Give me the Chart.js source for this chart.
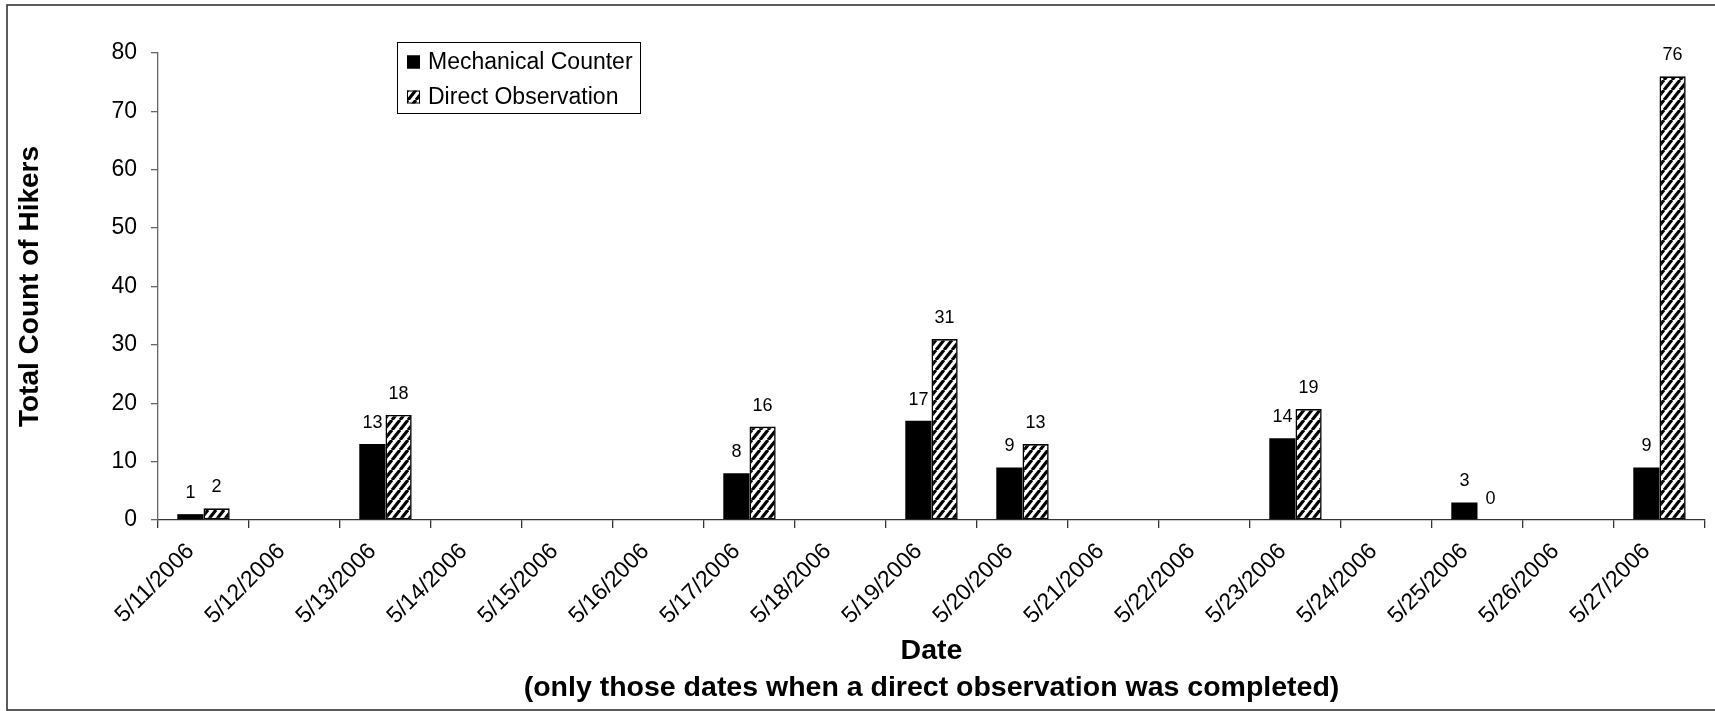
<!DOCTYPE html>
<html>
<head>
<meta charset="utf-8">
<title>Total Count of Hikers</title>
<script src="https://cdn.jsdelivr.net/npm/chart.js@4/dist/chart.umd.min.js"></script>
<style>
  html, body { margin: 0; padding: 0; background: #fff; }
  #wrap { width: 1715px; height: 711px; position: relative; }
</style>
</head>
<body>
<div id="wrap"><canvas id="c" width="1715" height="711"></canvas></div>
<script>
// Survey dates (one category per day)
const dates = [
  '5/11/2006', '5/12/2006', '5/13/2006', '5/14/2006', '5/15/2006', '5/16/2006',
  '5/17/2006', '5/18/2006', '5/19/2006', '5/20/2006', '5/21/2006', '5/22/2006',
  '5/23/2006', '5/24/2006', '5/25/2006', '5/26/2006', '5/27/2006'
];
// Hiker totals per day; null = no direct observation that day
const mechanicalCounter = [1, null, 13, null, null, null, 8, null, 17, 9, null, null, 14, null, 3, null, 9];
const directObservation = [2, null, 18, null, null, null, 16, null, 31, 13, null, null, 19, null, 0, null, 76];
// Value axis range
const yMin = 0;
const yMax = 80;
const yStep = 10;

const seriesNames = ['Mechanical Counter', 'Direct Observation'];
const axisTitleY = 'Total Count of Hikers';
const axisTitleX = ['Date', '(only those dates when a direct observation was completed)'];

const FONT = '"Liberation Sans", Arial, Helvetica, sans-serif';

// Upward diagonal hatch used for the direct-observation bars
function makeHatch(ctx) {
  const w = 8, h = 10;
  const tile = document.createElement('canvas');
  tile.width = w; tile.height = h;
  const t = tile.getContext('2d');
  t.fillStyle = '#fff';
  t.fillRect(0, 0, w, h);
  t.strokeStyle = '#000';
  t.lineWidth = 3.2;
  t.beginPath();
  for (let k = -1; k <= 1; k++) {
    t.moveTo(k * w, h);
    t.lineTo(k * w + w, 0);
  }
  t.stroke();
  return ctx.createPattern(tile, 'repeat');
}

const canvas = document.getElementById('c');
const ctx = canvas.getContext('2d');
const hatch = makeHatch(ctx);

// White page with the outer frame
const framePlugin = {
  id: 'frame',
  beforeDraw(chart) {
    const c = chart.ctx;
    c.save();
    c.fillStyle = '#fff';
    c.fillRect(0, 0, chart.width, chart.height);
    c.strokeStyle = '#333';
    c.lineWidth = 1.6;
    c.strokeRect(7, 5, chart.width + 10, 705);
    c.restore();
  }
};

// Value labels above each bar
const valueLabels = {
  id: 'valueLabels',
  afterDatasetsDraw(chart) {
    const c = chart.ctx;
    c.save();
    c.font = '18px ' + FONT;
    c.fillStyle = '#000';
    c.textAlign = 'center';
    c.textBaseline = 'middle';
    chart.data.datasets.forEach((ds, i) => {
      const meta = chart.getDatasetMeta(i);
      meta.data.forEach((bar, j) => {
        const v = ds.data[j];
        if (v === null || v === undefined) return;
        c.fillText(String(v), bar.x, bar.y - 21);
      });
    });
    c.restore();
  }
};

// Boxed legend inside the plot
const boxLegend = {
  id: 'boxLegend',
  afterDraw(chart) {
    const c = chart.ctx;
    const x = 397, y = 42, w = 243, h = 71;
    c.save();
    c.fillStyle = '#fff';
    c.fillRect(x, y, w, h);
    c.strokeStyle = '#000';
    c.lineWidth = 1;
    c.strokeRect(x + 0.5, y + 0.5, w, h);
    c.font = '23px ' + FONT;
    c.textBaseline = 'middle';
    c.textAlign = 'left';
    const rows = [
      { label: seriesNames[0], fill: '#000', cy: 62 },
      { label: seriesNames[1], fill: hatch, cy: 97 }
    ];
    rows.forEach(r => {
      c.fillStyle = r.fill;
      c.fillRect(407, r.cy - 6.5, 13, 13);
      c.strokeStyle = '#000';
      c.lineWidth = 1;
      c.strokeRect(407.5, r.cy - 6, 12, 12);
      c.fillStyle = '#000';
      c.fillText(r.label, 428, r.cy + 1);
    });
    c.restore();
  }
};

new Chart(ctx, {
  type: 'bar',
  data: {
    labels: dates,
    datasets: [
      {
        label: seriesNames[0],
        data: mechanicalCounter,
        backgroundColor: '#000',
        borderColor: '#000',
        borderWidth: 0,
        categoryPercentage: 0.576,
        barPercentage: 1.0
      },
      {
        label: seriesNames[1],
        data: directObservation,
        backgroundColor: hatch,
        borderColor: '#000',
        borderWidth: (c) => (c.raw ? 1.6 : 0),
        borderSkipped: false,
        categoryPercentage: 0.576,
        barPercentage: 1.0
      }
    ]
  },
  options: {
    responsive: false,
    animation: false,
    devicePixelRatio: 1,
    layout: { padding: { left: 0, top: 53, right: 10, bottom: 0 } },
    plugins: {
      legend: { display: false },
      tooltip: { enabled: false }
    },
    scales: {
      x: {
        type: 'category',
        offset: true,
        grid: {
          offset: true,
          drawOnChartArea: false,
          drawTicks: true,
          tickLength: 8,
          color: '#333',
          lineWidth: 1.3
        },
        border: { display: true, color: '#333', width: 1.3 },
        ticks: {
          autoSkip: false,
          maxRotation: 45,
          minRotation: 45,
          padding: 10,
          labelOffset: -13,
          color: '#000',
          font: { family: FONT, size: 23 }
        },
        title: {
          display: true,
          text: axisTitleX,
          color: '#000',
          font: { family: FONT, size: 28.5, weight: 'bold', lineHeight: 1.3 },
          padding: { top: 0, bottom: 4 }
        },
        afterFit(scale) { scale.height = 191; }
      },
      y: {
        min: yMin,
        max: yMax,
        ticks: {
          stepSize: yStep,
          padding: 14,
          color: '#000',
          font: { family: FONT, size: 23 }
        },
        grid: {
          drawOnChartArea: false,
          drawTicks: true,
          tickLength: 7,
          color: '#666',
          lineWidth: 1.3
        },
        border: { display: true, color: '#666', width: 1.3 },
        title: {
          display: true,
          text: axisTitleY,
          color: '#000',
          font: { family: FONT, size: 28, weight: 'bold', lineHeight: 1.2 },
          padding: { top: 13, bottom: 0 }
        },
        afterFit(scale) { scale.width = 158; }
      }
    }
  },
  plugins: [framePlugin, valueLabels, boxLegend]
});
</script>
</body>
</html>
